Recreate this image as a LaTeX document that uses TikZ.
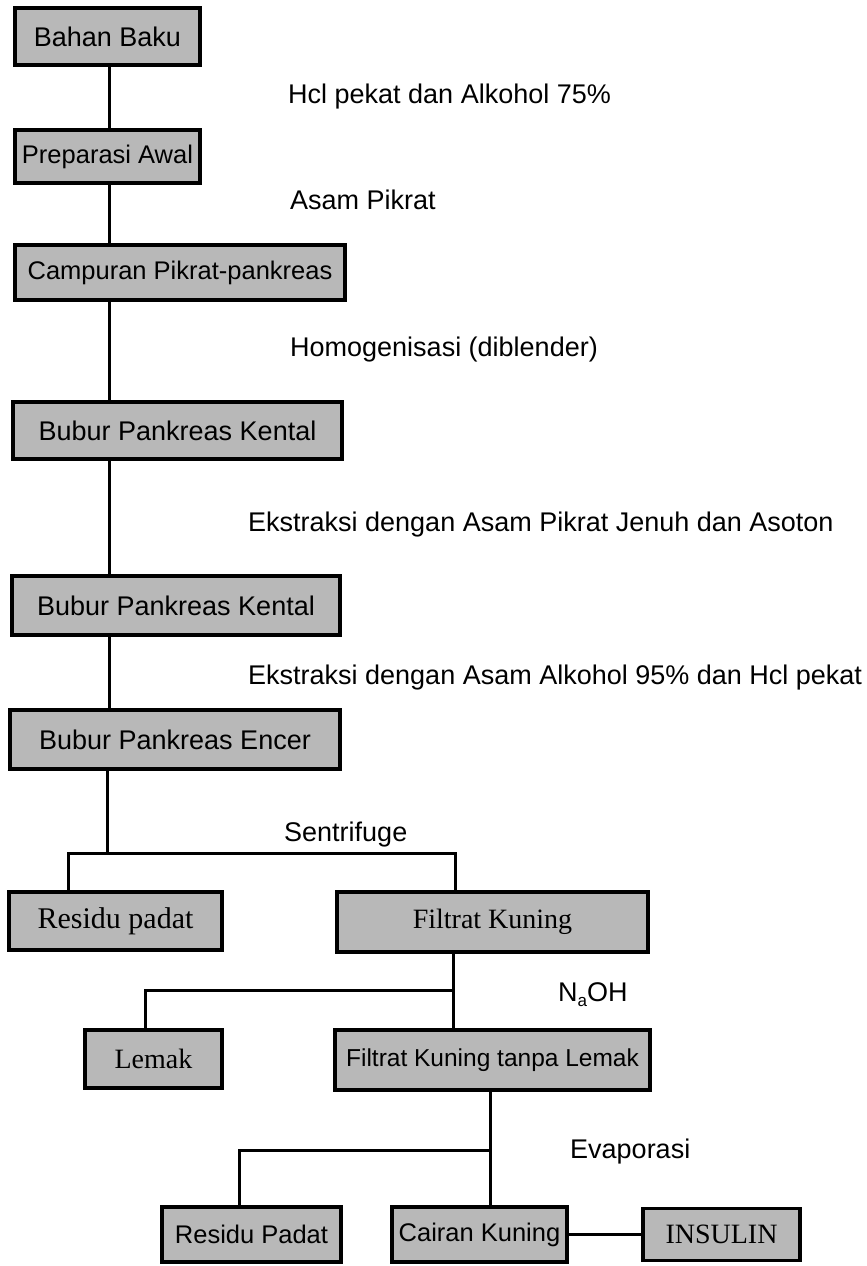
\documentclass[tikz,border=0pt]{standalone}
\usepackage{fontspec}
\setmainfont{Liberation Sans}
\newfontfamily\boxserif{Liberation Serif}
\begin{document}
\begin{tikzpicture}[x=1pt,y=-1pt,
  box/.style={draw=black, line width=3.5pt, fill=black!28, inner sep=0pt,
    font=\fontsize{27}{30}\selectfont},
  tbox/.style={box, font=\fontsize{25.5}{30}\selectfont},
  sbox/.style={box, font=\boxserif\fontsize{28}{30}\selectfont},
  lbl/.style={anchor=west, inner sep=0pt, font=\fontsize{27}{30}\selectfont},
  conn/.style={line width=3pt}]
\useasboundingbox (0,0) rectangle (867,1266);
% boxes
\node[box, minimum width=185, minimum height=57] (bahan) at (107.5,36.5) {Bahan Baku};
\node[tbox, minimum width=185, minimum height=53] (prep) at (107.5,156.5) {Preparasi Awal};
\node[tbox, minimum width=330, minimum height=55] (camp) at (180,272.5) {Campuran Pikrat-pankreas};
\node[box, minimum width=329, minimum height=57] (kental1) at (177.5,430.5) {Bubur Pankreas Kental};
\node[box, minimum width=328, minimum height=59] (kental2) at (176,605.5) {Bubur Pankreas Kental};
\node[box, minimum width=330, minimum height=59] (encer) at (175,739.5) {Bubur Pankreas Encer};
\node[sbox, minimum width=213, minimum height=58, font=\boxserif\fontsize{30}{32}\selectfont] (residu1) at (115.5,921) {Residu padat};
\node[sbox, minimum width=311, minimum height=60] (filtrat) at (492.5,922) {Filtrat Kuning};
\node[sbox, minimum width=137, minimum height=58] (lemak) at (153.5,1059) {Lemak};
\node[tbox, minimum width=315, minimum height=60, font=\fontsize{24.5}{30}\selectfont] (fktl) at (492.5,1060) {Filtrat Kuning tanpa Lemak};
\node[tbox, minimum width=179, minimum height=55] (residu2) at (251.5,1234.5) {Residu Padat};
\node[tbox, minimum width=175, minimum height=55] (cairan) at (479.5,1234.5) {Cairan Kuning};
\node[sbox, minimum width=157, minimum height=52] (insulin) at (721.5,1234.5) {INSULIN};
% labels
\node[lbl] (l1) at (288,97) {Hcl pekat dan Alkohol 75\%};
\node[lbl] (l2) at (290,200) {Asam Pikrat};
\node[lbl] (l3) at (290,350) {Homogenisasi (diblender)};
\node[lbl] (l4) at (248,525) {Ekstraksi dengan Asam Pikrat Jenuh dan Asoton};
\node[lbl] (l5) at (248,678) {Ekstraksi dengan Asam Alkohol 95\% dan Hcl pekat};
\node[lbl] (l6) at (284,835) {Sentrifuge};
\node[lbl] (l7) at (558,995) {N\raisebox{-0.35ex}{\fontsize{17}{18}\selectfont a}OH};
\node[lbl] (l8) at (570,1152) {Evaporasi};
% junction coordinates
\coordinate (c0) at (109,0);
\coordinate (j1) at (107,853);
\coordinate (j1l) at (68,853);
\coordinate (j1r) at (455,853);
\coordinate (j2) at (453,990);
\coordinate (j2l) at (145,990);
\coordinate (j3) at (490,1150);
\coordinate (j3l) at (239,1150);
% connectors
\draw[conn] (bahan.south -| c0) -- (prep.north -| c0);
\draw[conn] (prep.south -| c0) -- (camp.north -| c0);
\draw[conn] (camp.south -| c0) -- (kental1.north -| c0);
\draw[conn] (kental1.south -| c0) -- (kental2.north -| c0);
\draw[conn] (kental2.south -| c0) -- (encer.north -| c0);
\draw[conn] (encer.south -| j1) -- (j1);
\draw[conn] (residu1.north -| j1l) -- (j1l) -- (j1r) -- (filtrat.north -| j1r);
\draw[conn] (filtrat.south -| j2) -- (fktl.north -| j2);
\draw[conn] (j2) -- (j2l) -- (lemak.north -| j2l);
\draw[conn] (fktl.south -| j3) -- (cairan.north -| j3);
\draw[conn] (j3) -- (j3l) -- (residu2.north -| j3l);
\draw[conn] (cairan.east) -- (insulin.west);
\end{tikzpicture}
\end{document}
